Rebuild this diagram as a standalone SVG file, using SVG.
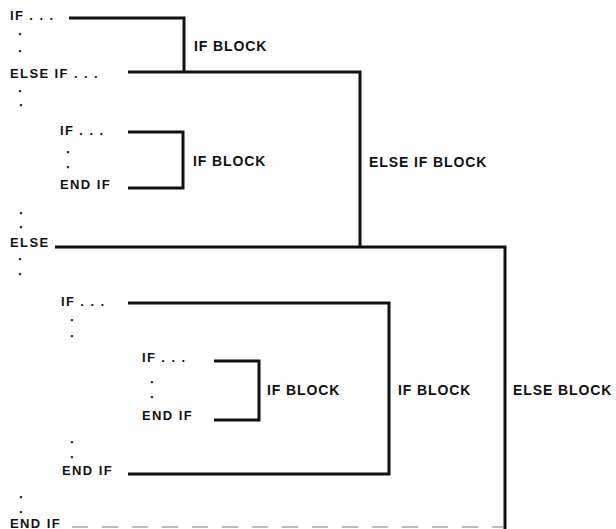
<svg xmlns="http://www.w3.org/2000/svg" width="616" height="529" viewBox="0 0 616 529">
<style>
text{font-family:"Liberation Sans",Arial,sans-serif;font-weight:bold;font-size:13px;letter-spacing:1.4px;fill:#111}
.lb{font-size:14px;letter-spacing:0.9px}
.d{font-size:10px;letter-spacing:0;stroke:#111;stroke-width:0.5}
.ln{fill:none;stroke:#111;stroke-width:3;stroke-linecap:butt;stroke-linejoin:miter}
.faint{fill:none;stroke:#bbb;stroke-width:2;stroke-dasharray:16 14}
</style>
<rect width="616" height="529" fill="#fff"/>
<g id="connectors">
<polyline class="ln" points="69,18 184,18 184,72"/>
<polyline class="ln" points="128,72 360,72 360,247"/>
<polyline class="ln" points="128,132 183,132 183,188 128,188"/>
<polyline class="ln" points="55,247 505,247 505,529"/>
<polyline class="ln" points="128,303 389,303 389,474 128,474"/>
<polyline class="ln" points="214,361 259,361 259,420 214,420"/>
<line class="faint" x1="72" y1="527" x2="503" y2="527"/>
</g>
<g id="outer-if"><text x="10" y="20">IF . . .</text><text class="d" x="18.6" y="34.7">.</text><text class="d" x="18.6" y="51.7">.</text></g>
<g id="outer-elseif"><text x="10" y="78">ELSE IF . . .</text><text class="d" x="18.6" y="91.7">.</text><text class="d" x="19.6" y="105.7">.</text></g>
<g id="nested-if-1"><text x="60" y="135">IF . . .</text><text class="d" x="66.6" y="152.7">.</text><text class="d" x="66.6" y="167.7">.</text><text x="60" y="189">END IF</text></g>
<g id="outer-else"><text class="d" x="19.6" y="213.7">.</text><text class="d" x="19.6" y="227.7">.</text><text x="10" y="247">ELSE</text><text class="d" x="18.6" y="259.7">.</text><text class="d" x="18.6" y="274.7">.</text></g>
<g id="nested-if-2"><text x="61" y="306">IF . . .</text><text class="d" x="70.6" y="320.7">.</text><text class="d" x="70.6" y="336.7">.</text><text class="d" x="70.6" y="442.7">.</text><text class="d" x="70.6" y="457.7">.</text><text x="62" y="475">END IF</text></g>
<g id="nested-if-3"><text x="142" y="362">IF . . .</text><text class="d" x="150.6" y="382.7">.</text><text class="d" x="150.6" y="397.7">.</text><text x="142" y="420">END IF</text></g>
<g id="outer-endif"><text class="d" x="19.6" y="497.7">.</text><text class="d" x="19.6" y="512.7">.</text><text x="10" y="528">END IF</text></g>
<g id="label-if-block-1"><text class="lb" x="194" y="51">IF BLOCK</text></g>
<g id="label-if-block-2"><text class="lb" x="193" y="166">IF BLOCK</text></g>
<g id="label-elseif-block"><text class="lb" x="369" y="167">ELSE IF BLOCK</text></g>
<g id="label-if-block-3"><text class="lb" x="267" y="395">IF BLOCK</text></g>
<g id="label-if-block-4"><text class="lb" x="398" y="395">IF BLOCK</text></g>
<g id="label-else-block"><text class="lb" x="513" y="395">ELSE BLOCK</text></g>
</svg>
